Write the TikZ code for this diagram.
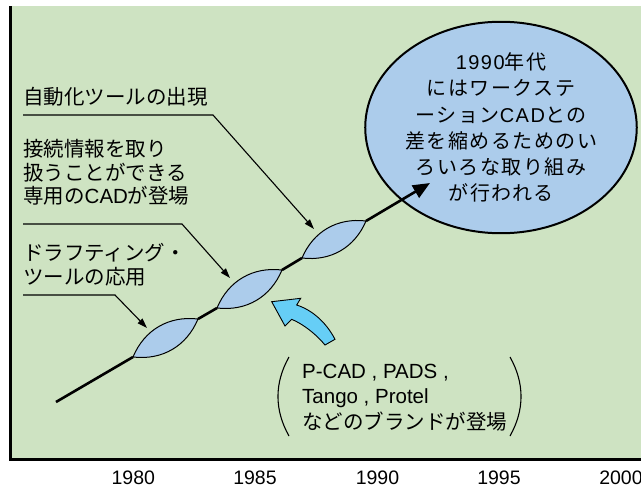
\documentclass[tikz,border=0pt]{standalone}
\usepackage{fontspec}
\setmainfont{Liberation Sans}
\newfontfamily\cjk{Noto Sans CJK JP}
\newfontfamily\cjkS[LetterSpace=7.5]{Noto Sans CJK JP}
\newfontfamily\latS[LetterSpace=7.5]{Liberation Sans}
\usetikzlibrary{arrows.meta,shapes.geometric}
\definecolor{panelgreen}{RGB}{206,227,194}
\definecolor{lensblue}{RGB}{172,204,235}
\definecolor{skyblue}{RGB}{102,206,246}
\begin{document}
\begin{tikzpicture}[x=1pt,y=-1pt,
  lbl/.style={anchor=west,align=left,inner sep=0pt,font=\fontsize{20.5}{23.5}\selectfont},
  ptxt/.style={anchor=west,align=left,inner sep=0pt,font=\fontsize{20.5}{25.5}\selectfont},
  year/.style={inner sep=0pt,font=\fontsize{19.5}{22}\selectfont},
  leader/.style={line width=1.1pt,-{Triangle[length=10pt,width=6.5pt]}},
  lens/.style={draw=black,line width=1pt,fill=lensblue},
  trunk/.style={line width=2.6pt},
  paren/.style={line width=1.1pt},
  frameline/.style={line width=3pt}]
\useasboundingbox (0,0) rectangle (641,490);
% panel
\fill[panelgreen] (12,6) rectangle (641,459);
\draw[frameline] (10.5,6) -- (10.5,459) -- (641,459);

% coordinates along the trunk
\coordinate (s0) at (56,402);
\coordinate (l1a) at (133,357);
\coordinate (l1b) at (198,319);
\coordinate (l2a) at (217,308);
\coordinate (l2b) at (282,270);
\coordinate (l3a) at (302,258);
\coordinate (l3b) at (366,221);
\coordinate (tip) at (430,183);

% bubble
\node[ellipse,draw,line width=2pt,fill=lensblue,minimum width=222pt,minimum height=191pt,
  inner sep=0pt,align=center,font=\fontsize{20}{26.2}\selectfont\latS] (bubble) at (501,127.5)
  {1990{\cjkS 年代}\\{\cjkS にはワークステ}\\{\cjkS ーション}CAD{\cjkS との}\\{\cjkS 差を縮めるためのい}\\{\cjkS ろいろな取り組み}\\{\cjkS が行われる}};

% trunk and lenses
\draw[trunk] (s0) -- (l1a);
\draw[lens] (l1a) to[bend left=37] (l1b) to[bend left=37] (l1a) -- cycle;
\draw[trunk] (l1b) -- (l2a);
\draw[lens] (l2a) to[bend left=37] (l2b) to[bend left=37] (l2a) -- cycle;
\draw[trunk] (l2b) -- (l3a);
\draw[lens] (l3a) to[bend left=37] (l3b) to[bend left=37] (l3a) -- cycle;
\draw[trunk,-{Triangle[length=17pt,width=14pt]}] (l3b) -- (tip);

% labels
\node[lbl] (lab1) at (23,96.5) {\cjk 自動化ツールの出現};
\node[lbl] (lab2) at (23,172.5) {{\cjk 接続情報を取り}\\{\cjk 扱うことができる}\\{\cjk 専用の}CAD{\cjk が登場}};
\node[lbl] (lab3) at (23,265) {{\cjk ドラフティング・}\\{\cjk ツールの応用}};

\coordinate (u1a) at (23,115);
\coordinate (u1b) at (213,115);
\coordinate (t1) at (314,229);
\coordinate (u2a) at (23,224);
\coordinate (u2b) at (182,224);
\coordinate (t2) at (230,278);
\coordinate (u3a) at (23,295);
\coordinate (u3b) at (115,295);
\coordinate (t3) at (147,328);
\draw[leader] (u1a) -- (u1b) -- (t1);
\draw[leader] (u2a) -- (u2b) -- (t2);
\draw[leader] (u3a) -- (u3b) -- (t3);

% curved blue arrow
\draw[fill=skyblue,line width=0.9pt,line join=miter]
  (271.7,301.7) -- (300.7,298.3) -- (296.7,305)
  .. controls (312,310) and (326,322) .. (335,339.3)
  -- (325,345)
  .. controls (316,334) and (303,324) .. (291.7,319.3)
  -- (285,326) -- cycle;

% brands in parentheses
\node[ptxt] (brands) at (302,397.5) {P-CAD , PADS ,\\Tango , Protel\\{\cjk などのブランドが登場}};
\draw[paren] (289,357) .. controls (274.3,383) and (274.3,410) .. (289,436);
\draw[paren] (510,357) .. controls (524.7,383) and (524.7,410) .. (510,436);

% years
\node[year] (y1980) at (133.3,477.5) {1980};
\node[year] (y1985) at (255,477.5) {1985};
\node[year] (y1990) at (377.5,477.5) {1990};
\node[year] (y1995) at (499,477.5) {1995};
\node[year] (y2000) at (621,477.5) {2000};
\end{tikzpicture}
\end{document}
